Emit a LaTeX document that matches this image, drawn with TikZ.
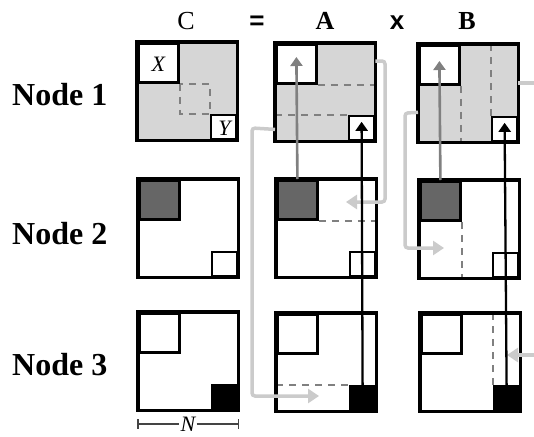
\documentclass[tikz,border=0pt]{standalone}
\usepackage{fontspec}
\setmainfont{Liberation Serif}
\newfontfamily\hsans{Liberation Sans}
\usetikzlibrary{arrows.meta,calc}
\definecolor{lgray}{HTML}{D6D6D6}
\definecolor{dgray}{HTML}{666666}
\definecolor{mgray}{HTML}{808080}
\definecolor{cgray}{HTML}{CBCBCB}
\definecolor{bgray}{HTML}{444444}
\begin{document}
\begin{tikzpicture}[x=1pt,y=-1pt,
  matf/.style={inner sep=0pt, minimum width=100pt, minimum height=98pt, anchor=north west},
  outer/.style={draw=black, line width=3.2pt},
  xblk/.style={draw=black, line width=2.8pt, inner sep=0pt, minimum width=40pt, minimum height=39pt, anchor=north west},
  yblk/.style={draw=black, line width=2.6pt, inner sep=0pt, minimum width=25pt, minimum height=24pt, anchor=south east},
  dsh/.style={draw=mgray, line width=1.6pt, dash pattern=on 7pt off 6pt},
  gup/.style={draw=mgray, line width=2.6pt, -{Triangle[length=9pt,width=12pt]}},
  kup/.style={draw=black, line width=2.3pt, -{Triangle[length=9pt,width=12pt]}},
  conn/.style={draw=cgray, line width=3.5pt, rounded corners=3pt, -{Triangle[length=11pt,width=14pt]}},
  connf/.style={draw=cgray, line width=3.5pt},
  rowlab/.style={anchor=base west, font=\fontsize{32}{36}\selectfont\bfseries, inner sep=0pt},
  head/.style={anchor=base, font=\fontsize{26}{30}\selectfont, inner sep=0pt},
  mlab/.style={font=\fontsize{22}{24}\selectfont\itshape, inner sep=0pt}
]
\useasboundingbox (0,0) rectangle (534,436);

% ---------- headers ----------
\node[head] (hC) at (186,30) {C};
\node[head, font=\fontsize{26}{30}\selectfont\hsans\bfseries] (hEq) at (257,30) {=};
\node[head, font=\fontsize{26}{30}\selectfont\bfseries] (hA) at (325,30) {A};
\node[head, font=\fontsize{26}{30}\selectfont\hsans\bfseries] (hX) at (397,30) {x};
\node[head, font=\fontsize{26}{30}\selectfont\bfseries] (hB) at (467,30) {B};

% ---------- row labels ----------
\node[rowlab] (n1) at (12,105) {Node 1};
\node[rowlab] (n2) at (12,244) {Node 2};
\node[rowlab] (n3) at (12,375) {Node 3};

% ---------- Row 1 ----------
\node[matf, fill=lgray] (C1) at (137,42) {};
\node[xblk, fill=white] (C1x) at (C1.north west) {};
\node[yblk, fill=white] (C1y) at (C1.south east) {};
\draw[dsh] (C1x.south east) rectangle (C1y.north west);
\node[mlab] (lX) at ($(C1x.center)+(0,1)$) {X};
\node[mlab] (lY) at ($(C1y.center)+(1,1)$) {Y};
\draw[outer] (C1.north west) rectangle (C1.south east);

\node[matf, fill=lgray] (A1) at (275,43) {};
\node[xblk, fill=white] (A1x) at (A1.north west) {};
\node[yblk, fill=white] (A1y) at (A1.south east) {};
\draw[dsh] (A1x.south east) -- (A1x.south east -| A1.east);
\draw[dsh] (A1y.north west -| A1.west) -- (A1y.north west);
\draw[outer] (A1.north west) rectangle (A1.south east);

\node[matf, fill=lgray] (B1) at (418,44) {};
\node[xblk, fill=white] (B1x) at (B1.north west) {};
\node[yblk, fill=white] (B1y) at (B1.south east) {};
\draw[dsh] (B1x.south east) -- (B1x.south east |- B1.south);
\draw[dsh] (B1y.north west |- B1.north) -- (B1y.north west);
\draw[outer] (B1.north west) rectangle (B1.south east);

% ---------- Row 2 ----------
\node[matf, fill=white] (C2) at (138,179) {};
\node[xblk, fill=dgray] (C2x) at (C2.north west) {};
\node[yblk, fill=white] (C2y) at (C2.south east) {};
\draw[outer] (C2.north west) rectangle (C2.south east);

\node[matf, fill=white] (A2) at (276,179) {};
\node[xblk, fill=dgray] (A2x) at (A2.north west) {};
\node[yblk, fill=white] (A2y) at (A2.south east) {};
\draw[dsh] (A2x.south east) -- (A2x.south east -| A2.east);
\draw[outer] (A2.north west) rectangle (A2.south east);

\node[matf, fill=white] (B2) at (419,180) {};
\node[xblk, fill=dgray] (B2x) at (B2.north west) {};
\node[yblk, fill=white] (B2y) at (B2.south east) {};
\draw[dsh] (B2x.south east) -- (B2x.south east |- B2.south);
\draw[outer] (B2.north west) rectangle (B2.south east);

% ---------- Row 3 ----------
\node[matf, fill=white] (C3) at (138,312) {};
\node[xblk, fill=white] (C3x) at (C3.north west) {};
\node[yblk, fill=black] (C3y) at (C3.south east) {};
\draw[outer] (C3.north west) rectangle (C3.south east);

\node[matf, fill=white] (A3) at (276,313) {};
\node[xblk, fill=white] (A3x) at (A3.north west) {};
\node[yblk, fill=black] (A3y) at (A3.south east) {};
\draw[dsh] (A3y.north west -| A3.west) -- (A3y.north west);
\draw[outer] (A3.north west) rectangle (A3.south east);

\node[matf, fill=white] (B3) at (420,313) {};
\node[xblk, fill=white] (B3x) at (B3.north west) {};
\node[yblk, fill=black] (B3y) at (B3.south east) {};
\draw[dsh] (B3y.north west |- B3.north) -- (B3y.north west);
\draw[outer] (B3.north west) rectangle (B3.south east);

% ---------- N dimension ----------
\coordinate (Nl) at (C3.south west |- 0,424);
\coordinate (Nr) at (C3.south east |- 0,424);
\node[font=\fontsize{22}{24}\selectfont\itshape, inner sep=0pt, anchor=base] (Nlab) at (188,431) {N};
\draw[bgray, line width=1.2pt] (Nl) -- ($(Nlab.west |- Nl)+(-1,0)$);
\draw[bgray, line width=1.2pt] ($(Nlab.east |- Nr)+(1,0)$) -- (Nr);
\draw[bgray, line width=1.2pt] ($(Nl)+(0,-5)$) -- ($(Nl)+(0,5)$);
\draw[bgray, line width=1.2pt] ($(Nr)+(0,-5)$) -- ($(Nr)+(0,5)$);

% ---------- light gray connectors ----------
\coordinate (k1s) at ($(A1.north east)+(0,18)$);
\coordinate (k1t) at (346,202);
\draw[conn] (k1s) -- (385,61) -- (385,202) -- (k1t);

\coordinate (k2s) at ($(A1.south west)+(0,-12)$);
\coordinate (k2t) at (319,396);
\draw[conn] (k2s) -- (252,128) -- (252,396) -- (k2t);

\coordinate (k3s) at ($(B1.south west)+(0,-30)$);
\coordinate (k3t) at (444,248);
\draw[conn] (k3s) -- (405,113) -- (405,248) -- (k3t);

\coordinate (k4s) at ($(B1.north east)+(0,39)$);
\coordinate (k4e) at (534,83);
\draw[connf] (k4s) -- (k4e);

\coordinate (k5s) at (534,355);
\coordinate (k5t) at (507,355);
\draw[conn] (k5s) -- (k5t);

% ---------- gray arrows ----------
\draw[gup] (A2x.north) -- ($(A1x.north)+(0,14)$);
\draw[gup] (B2x.north) -- ($(B1x.north)+(0,17)$);

% ---------- black arrows ----------
\draw[kup] (A3y.north) -- ($(A1y.north)+(0,7)$);
\draw[kup] (B3y.north) -- ($(B1y.north)+(0,7)$);
\end{tikzpicture}
\end{document}
